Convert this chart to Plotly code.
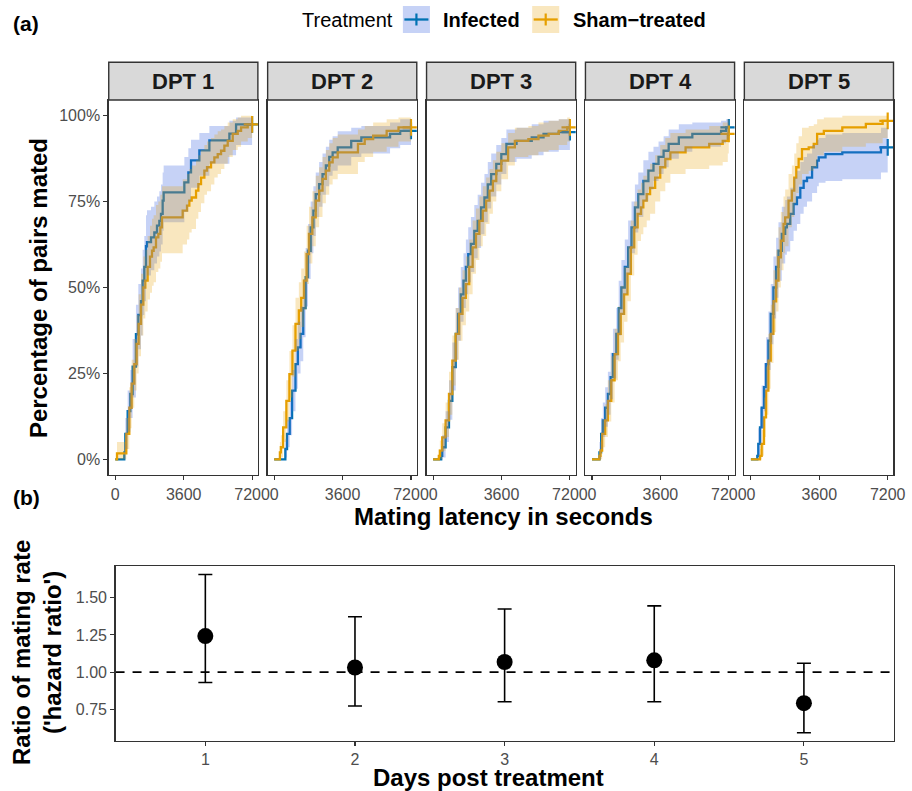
import plotly.graph_objects as go

W, H = 912, 791
# effective horizontal pixel span observed for the rendered page
XW = 898
FONT = "Liberation Sans, Arial, sans-serif"

# ---------------- data: panel (a), Kaplan-Meier style mating curves ----------------
panels = ["DPT 1", "DPT 2", "DPT 3", "DPT 4", "DPT 5"]
time_ticks = [0, 3600, 7200]
pct_ticks = [0, 25, 50, 75, 100]
pct_labels = ["0%", "25%", "50%", "75%", "100%"]
END_TIME = 7200

# DPT 1
inf1_t = [0, 474, 527, 650, 790, 913, 1088, 1212, 1352, 1440, 1528, 1616, 1668, 1880, 2055, 2195, 2318, 2405, 2493, 2546, 3635, 3846, 3986, 4425, 4952, 6006, 6357]
inf1_p = [0, 2, 7.4, 14, 19, 27, 36.4, 42, 46, 52, 56, 62, 63.2, 64.6, 66, 68, 69.4, 71.4, 75.3, 77.7, 80.6, 83.5, 87, 89.9, 92.8, 94.8, 97.5]
inf1_lo = [0, 0, 3, 8, 12, 18, 27, 32, 36, 42, 46, 52, 53.5, 55, 57, 59, 60.5, 62.5, 66.5, 69, 72, 75, 79, 82.5, 86, 88.5, 91.5]
inf1_hi = [0, 4.5, 12, 20, 26, 35, 45, 51, 55.5, 61, 65, 71, 72.5, 73.5, 75, 76.5, 78, 80, 83.5, 85.5, 88, 90.5, 93, 95, 97, 98.5, 99.5]
sham1_t = [0, 90, 580, 738, 860, 1001, 1124, 1229, 1352, 1475, 1580, 1703, 1826, 1932, 2019, 2142, 2265, 2371, 2458, 3547, 3775, 3898, 4021, 4250, 4372, 4513, 4689, 4829, 5040, 5215, 5391, 5567, 5742, 5918, 6181, 6445, 6620, 6971]
sham1_p = [0, 1.7, 7.4, 15, 22, 27.7, 33.6, 39.4, 45, 50, 52, 56, 59, 60.7, 61.7, 64.6, 65.6, 67.5, 70.4, 72.4, 73.8, 75.3, 76.2, 78.2, 80.1, 82, 84, 85, 86.4, 87.9, 88.8, 89.8, 91.3, 92.7, 94.7, 95.6, 96.6, 97.5]
sham1_lo = [0, 0, 3, 9, 15, 20, 25, 30, 36, 41, 43, 46.5, 48.5, 50.5, 51.5, 54.5, 55.5, 57.5, 60, 62.5, 64, 66, 67, 70, 72, 74.5, 77, 78, 80, 82, 83, 84.5, 86, 88, 90, 91, 92.5, 93.5]
sham1_hi = [0, 5, 12, 21, 29, 35, 42, 48, 54, 59, 61, 65, 68, 70, 71, 74, 75, 77, 79.5, 81.5, 83, 84.5, 85.5, 87, 88.5, 90, 91.5, 92.5, 93.5, 94.5, 95.5, 96, 97, 98, 99, 99.5, 100, 100]

# DPT 2
inf2_t = [0, 587, 676, 818, 942, 1120, 1245, 1387, 1529, 1654, 1778, 1920, 2063, 2187, 2365, 2543, 2720, 2898, 3076, 3343, 4054, 4587, 6099, 6632]
inf2_p = [0, 3, 7.4, 12, 20, 27.7, 32.6, 36.5, 44, 53, 60.7, 67.5, 72.4, 77.2, 80.1, 83, 85.5, 88, 89.3, 90.8, 92.7, 93.7, 94.7, 95.6]
inf2_lo = [0, 0.5, 3.5, 7, 14, 20.5, 25, 28.5, 35.5, 44.5, 52.5, 60, 65, 70.5, 73.5, 77, 79.5, 82.5, 84, 85.5, 88, 89, 90.5, 91.5]
inf2_hi = [0, 6, 11.5, 17, 26, 35, 40, 44.5, 52.5, 61.5, 68.5, 75, 79.5, 83.5, 86.5, 89, 91, 93, 94, 95.5, 96.5, 97, 98, 99]
sham2_t = [0, 300, 350, 470, 640, 800, 960, 1120, 1298, 1422, 1565, 1707, 1831, 2009, 2187, 2365, 2543, 2720, 2898, 3076, 3343, 4409, 4765, 5209, 5920, 6543]
sham2_p = [0, 2, 3.5, 9.3, 17, 24.8, 31.6, 39.4, 43.3, 47, 52, 59.7, 65.6, 70.4, 75.3, 78.2, 81.6, 84, 86.4, 87.9, 89.3, 91.8, 93.2, 94.2, 95.6, 96.6]
sham2_lo = [0, 0, 0.5, 5, 11, 18, 24, 31.5, 35, 38.5, 43.5, 51, 57, 62, 67.5, 70.5, 74.5, 77, 80, 81.5, 83, 86.5, 88, 89.5, 91, 92.5]
sham2_hi = [0, 5, 7, 14, 23, 31.5, 39, 47, 51.5, 55.5, 60.5, 68, 73.5, 78, 82.5, 85, 88, 90, 92, 93.5, 94.5, 96, 97, 98, 99, 99.5]

# DPT 3
inf3_t = [0, 427, 480, 658, 836, 1013, 1191, 1316, 1458, 1600, 1725, 1849, 1991, 2169, 2347, 2525, 2703, 2880, 3058, 3325, 3591, 3858, 4392, 5192, 5814, 6614]
inf3_p = [0, 1, 3.5, 9.3, 17, 26.8, 36.5, 42.3, 48, 52, 56, 59.7, 62.7, 66.5, 69.4, 73.3, 76.2, 80, 83, 86, 88.8, 91.8, 92.7, 93.7, 94.7, 95.2]
inf3_lo = [0, 0, 0.5, 5, 11.5, 20, 29, 34.5, 40, 44, 48, 51.5, 54.5, 58.5, 61.5, 65.5, 69, 73, 76.5, 80, 83, 86.5, 87.5, 88.5, 89.5, 90]
inf3_hi = [0, 3, 7, 14, 23, 34, 44, 50, 56, 60, 64, 67.5, 70.5, 74, 77, 80.5, 83, 86.5, 89, 91.5, 93.5, 96, 96.5, 97.5, 98.5, 99]
sham3_t = [0, 302, 356, 480, 658, 836, 1013, 1191, 1369, 1547, 1725, 1902, 2080, 2258, 2436, 2614, 2791, 2969, 3147, 3325, 3591, 3947, 4303, 5014, 5547, 6081, 6614, 7059]
sham3_p = [0, 1, 2.5, 6.4, 11.3, 19, 28.7, 36.5, 42.3, 47, 51, 56, 61.7, 65.6, 69.4, 72.4, 75.3, 78.2, 81, 84, 86.9, 90.8, 92.7, 93.2, 94.2, 94.7, 95.6, 96.6]
sham3_lo = [0, 0, 0, 2.5, 6.5, 13, 21.5, 29, 34.5, 39, 43, 48, 54, 58, 62, 65, 68.5, 71.5, 75, 78, 81.5, 85.5, 88, 88.5, 89.5, 90, 91.5, 92.5]
sham3_hi = [0, 3, 5.5, 10.5, 16.5, 25.5, 36, 44, 50, 55, 59, 64, 69.5, 73, 76.5, 79.5, 82, 84.5, 87, 89.5, 92, 95, 96.5, 97, 98, 98.5, 99, 99.5]

# DPT 4
inf4_t = [0, 391, 480, 569, 693, 836, 978, 1102, 1280, 1405, 1547, 1725, 1902, 2080, 2258, 2436, 2703, 2969, 3236, 3503, 3769, 4036, 4570, 5281, 6792, 7059]
inf4_p = [0, 2, 7.4, 11.3, 15, 19, 23.9, 30.6, 36.5, 44, 50, 56, 61.7, 67.5, 73.3, 77.2, 81, 84, 86, 88, 89.8, 91.8, 93.7, 94.7, 95.6, 96.6]
inf4_lo = [0, 0, 3, 6.5, 9.5, 13, 17.5, 23.5, 29, 36, 42, 48, 54, 60, 66, 70.5, 75, 78.5, 81, 83, 85, 87.5, 89.5, 91, 92, 93]
inf4_hi = [0, 5, 12, 16.5, 21, 25.5, 31, 38, 44, 52, 58, 64, 69.5, 75, 80, 83.5, 87, 89.5, 91, 92.5, 94, 96, 97.5, 98, 98.5, 99]
sham4_t = [0, 391, 445, 534, 693, 836, 1013, 1191, 1369, 1511, 1689, 1867, 2045, 2223, 2400, 2578, 2703, 2880, 3058, 3325, 3592, 3858, 4125, 4925, 6170, 6881, 7148]
sham4_p = [0, 1, 2.5, 7.4, 11.3, 17, 23, 30.6, 36.5, 42.3, 48, 54, 61.7, 67.5, 71.4, 73.3, 75.3, 77.2, 79, 82, 85, 87.4, 89.3, 90.8, 91.8, 92.7, 94.7]
sham4_lo = [0, 0, 0, 3.5, 6.5, 11, 16.5, 23, 28.5, 34, 40, 46, 53.5, 59.5, 63.5, 65.5, 67.5, 69.5, 71.5, 75, 78, 80.5, 83, 84.5, 85.5, 86.5, 89]
sham4_hi = [0, 3, 5.5, 11.5, 16, 23, 30, 38, 44.5, 50.5, 56, 62, 69.5, 75, 78.5, 80.5, 82.5, 84.5, 86, 88.5, 91.5, 93.5, 95, 96, 97, 98, 99]

# DPT 5
inf5_t = [0, 336, 389, 478, 566, 690, 796, 920, 1044, 1185, 1327, 1451, 1627, 1804, 1893, 2070, 2247, 2424, 2600, 2777, 2954, 3220, 3485, 3573, 3927, 4811, 6846]
inf5_p = [0, 1, 4.5, 9.3, 15, 21, 27.7, 34.5, 42.3, 50, 56, 60.7, 65.6, 67.5, 68.5, 71.4, 74.3, 76.2, 79, 81, 82, 85, 86.9, 87.9, 88.8, 89.3, 90.8]
inf5_lo = [0, 0, 1, 4.5, 9, 14, 20, 26, 33.5, 41, 47, 52, 57, 59.5, 60.5, 63.5, 66.5, 68.5, 71.5, 73.5, 75, 77.5, 79.5, 80.5, 81, 81.5, 83.5]
inf5_hi = [0, 4, 9, 15, 21.5, 28, 35.5, 43, 51, 59, 64.5, 69, 73.5, 75.5, 76.5, 79, 82, 84, 86.5, 88, 89, 91.5, 93, 93.5, 94.5, 95, 96.5]
sham5_t = [0, 478, 566, 690, 796, 920, 1044, 1185, 1327, 1451, 1575, 1716, 1804, 1981, 2158, 2282, 2388, 2512, 2689, 3043, 3308, 3485, 3839, 4811, 6050, 6935]
sham5_p = [0, 1, 4.5, 12.2, 20, 28.7, 36.5, 46, 52, 58.8, 63.6, 68.5, 70.4, 75.3, 78.2, 82, 85, 87.4, 90.3, 90.8, 91.8, 94.7, 95.6, 96.6, 97.6, 98.5]
sham5_lo = [0, 0, 1, 6.5, 13, 20.5, 28, 37, 43, 50, 55, 60, 62, 67.5, 70.5, 74.5, 77.5, 80, 83, 84, 85, 88.5, 89.5, 91, 92, 93.5]
sham5_hi = [0, 3, 8.5, 18, 27, 36.5, 45, 55, 61, 67.5, 72, 76.5, 78.5, 83, 85.5, 89, 92, 94, 96.5, 97, 97.5, 99, 99.5, 100, 100, 100]

infected = [
    (inf1_t, inf1_p, inf1_lo, inf1_hi), (inf2_t, inf2_p, inf2_lo, inf2_hi),
    (inf3_t, inf3_p, inf3_lo, inf3_hi), (inf4_t, inf4_p, inf4_lo, inf4_hi),
    (inf5_t, inf5_p, inf5_lo, inf5_hi)]
sham = [
    (sham1_t, sham1_p, sham1_lo, sham1_hi), (sham2_t, sham2_p, sham2_lo, sham2_hi),
    (sham3_t, sham3_p, sham3_lo, sham3_hi), (sham4_t, sham4_p, sham4_lo, sham4_hi),
    (sham5_t, sham5_p, sham5_lo, sham5_hi)]

# ---------------- data: panel (b), hazard ratios ----------------
days = [1, 2, 3, 4, 5]
hr = [1.242, 1.031, 1.068, 1.079, 0.791]
hr_lo = [0.930, 0.772, 0.801, 0.801, 0.592]
hr_hi = [1.656, 1.372, 1.424, 1.445, 1.059]

# ---------------- styling ----------------
BLUE = "#0072B2"
ORANGE = "#E69F00"
BLUE_FILL = "rgba(65,105,225,0.30)"
ORANGE_FILL = "rgba(230,159,0,0.25)"
AXIS_COL = "#333333"
TICK_COL = "#4D4D4D"


def px(x):
    return x / XW


def py(y):
    return 1 - y / H


def step_pts(t, v, tend):
    xs, ys = [], []
    for i in range(len(t)):
        nxt = t[i + 1] if i + 1 < len(t) else tend
        xs += [t[i], nxt]
        ys += [v[i], v[i]]
    return xs, ys


fig = go.Figure()

PANEL_LEFT0 = 108.5
PANEL_STEP = 158.55
PANEL_W = 148.8
TOP_Y0, TOP_Y1 = 100, 475
STRIP_Y0 = 62.3

layout_axes = {}
shapes = []
annotations = []

for i in range(5):
    xa = "x" if i == 0 else f"x{i+1}"
    ya = "y" if i == 0 else f"y{i+1}"
    left = PANEL_LEFT0 + i * PANEL_STEP
    right = left + PANEL_W
    for (t, p, lo, hi), col in ((infected[i], BLUE), (sham[i], ORANGE)):
        fig.add_trace(go.Scatter(x=list(t) + [END_TIME], y=list(p) + [p[-1]], mode="lines",
                                 line=dict(color=col, width=2.3, shape="hv"),
                                 xaxis=xa, yaxis=ya, showlegend=False, hoverinfo="skip"))
    for (t, p, lo, hi), col in ((infected[i], BLUE), (sham[i], ORANGE)):
        fig.add_trace(go.Scatter(x=[END_TIME], y=[p[-1]], mode="markers",
                                 marker=dict(symbol="cross-thin", size=12, line=dict(color=col, width=2.2)),
                                 xaxis=xa, yaxis=ya, showlegend=False, hoverinfo="skip"))
    for (t, p, lo, hi), fc in ((infected[i], BLUE_FILL), (sham[i], ORANGE_FILL)):
        ux, uy = step_pts(t, hi, END_TIME)
        lx, ly = step_pts(t, lo, END_TIME)
        fig.add_trace(go.Scatter(x=ux + lx[::-1], y=uy + ly[::-1], mode="lines", fill="toself",
                                 fillcolor=fc, line=dict(width=0), xaxis=xa, yaxis=ya,
                                 showlegend=False, hoverinfo="skip"))

    xkey = "xaxis" if i == 0 else f"xaxis{i+1}"
    ykey = "yaxis" if i == 0 else f"yaxis{i+1}"
    layout_axes[xkey] = dict(domain=[px(left), px(right)], anchor=ya, range=[-345, 7505],
                             tickvals=time_ticks, ticktext=[str(v) for v in time_ticks],
                             ticks="outside", ticklen=4, tickwidth=1.1, tickcolor=AXIS_COL,
                             showline=True, mirror=True, linecolor=AXIS_COL, linewidth=1.4,
                             showgrid=False, zeroline=False,
                             tickfont=dict(size=16, color=TICK_COL, family=FONT))
    layout_axes[ykey] = dict(domain=[py(TOP_Y1), py(TOP_Y0)], anchor=xa, range=[-4.57, 104.57],
                             tickvals=pct_ticks, ticktext=pct_labels,
                             ticks="outside" if i == 0 else "", ticklen=4, tickwidth=1.1,
                             tickcolor=AXIS_COL, showticklabels=(i == 0),
                             showline=True, mirror=True, linecolor=AXIS_COL, linewidth=1.4,
                             showgrid=False, zeroline=False,
                             tickfont=dict(size=16, color=TICK_COL, family=FONT))
    shapes.append(dict(type="rect", xref="paper", yref="paper", x0=px(left), x1=px(right),
                       y0=py(TOP_Y0), y1=py(STRIP_Y0), fillcolor="#D9D9D9",
                       line=dict(color=AXIS_COL, width=1.4), layer="above"))
    annotations.append(dict(text=f"<b>{panels[i]}</b>", x=px((left + right) / 2), y=py((STRIP_Y0 + TOP_Y0) / 2),
                            xref="paper", yref="paper", showarrow=False, xanchor="center", yanchor="middle",
                            font=dict(size=22, color="#1A1A1A", family=FONT)))

# bottom panel
fig.add_trace(go.Scatter(x=days, y=hr, mode="markers",
                         marker=dict(color="black", size=16),
                         error_y=dict(type="data", symmetric=False,
                                      array=[h - m for h, m in zip(hr_hi, hr)],
                                      arrayminus=[m - l for m, l in zip(hr, hr_lo)],
                                      color="black", thickness=1.6, width=7),
                         xaxis="x6", yaxis="y6", showlegend=False, hoverinfo="skip"))

B_X0, B_X1, B_Y0, B_Y1 = 115.3, 891.7, 566, 740.7
layout_axes["xaxis6"] = dict(domain=[px(B_X0), px(B_X1)], anchor="y6", range=[0.4, 5.6],
                             tickvals=days, ticktext=[str(d) for d in days],
                             ticks="outside", ticklen=4, tickwidth=1.1, tickcolor=AXIS_COL,
                             showline=True, mirror=True, linecolor=AXIS_COL, linewidth=1.4,
                             showgrid=False, zeroline=False,
                             tickfont=dict(size=16, color=TICK_COL, family=FONT))
hr_ticks = [0.75, 1.0, 1.25, 1.5]
layout_axes["yaxis6"] = dict(domain=[py(B_Y1), py(B_Y0)], anchor="x6", range=[0.539, 1.713],
                             tickvals=hr_ticks, ticktext=[f"{v:.2f}" for v in hr_ticks],
                             ticks="outside", ticklen=4, tickwidth=1.1, tickcolor=AXIS_COL,
                             showline=True, mirror=True, linecolor=AXIS_COL, linewidth=1.4,
                             showgrid=False, zeroline=False,
                             tickfont=dict(size=16, color=TICK_COL, family=FONT))
shapes.append(dict(type="line", xref="x6", yref="y6", x0=0.4, x1=5.6, y0=1, y1=1,
                   line=dict(color="black", width=1.6, dash="9px,8px"), layer="below"))

# legend (drawn manually to mimic ggplot)
for x0, fc, col in ((402, BLUE_FILL, BLUE), (531, ORANGE_FILL, ORANGE)):
    shapes.append(dict(type="rect", xref="paper", yref="paper", x0=px(x0), x1=px(x0 + 27),
                       y0=py(33), y1=py(6), fillcolor=fc, line=dict(width=0)))
    shapes.append(dict(type="line", xref="paper", yref="paper", x0=px(x0 + 1.5), x1=px(x0 + 25.5),
                       y0=py(19.5), y1=py(19.5), line=dict(color=col, width=2.3)))
    shapes.append(dict(type="line", xref="paper", yref="paper", x0=px(x0 + 13.5), x1=px(x0 + 13.5),
                       y0=py(13.5), y1=py(25.5), line=dict(color=col, width=2.2)))


def ann(text, x, y, size, xanchor="center", angle=0, color="black"):
    annotations.append(dict(text=text, x=px(x), y=py(y), xref="paper", yref="paper", showarrow=False,
                            xanchor=xanchor, yanchor="middle", textangle=angle,
                            font=dict(size=size, color=color, family=FONT)))


ann("Treatment", 299, 19.5, 20, xanchor="left")
ann("<b>Infected</b>", 440, 19.5, 20, xanchor="left")
ann("<b>Sham\u2212treated</b>", 570, 19.5, 20, xanchor="left")
ann("<b>(a)</b>", 26, 24, 21)
ann("<b>(b)</b>", 26, 497, 21)
ann("<b>Percentage of pairs mated</b>", 38, 288, 24, angle=-90)
ann("<b>Mating latency in seconds</b>", 502, 516, 24)
ann("<b>Days post treatment</b>", 487, 777, 24)
ann("<b>Ratio of mating rate</b>", 21, 653, 24, angle=-90)
ann("<b>('hazard ratio')</b>", 52, 653, 24, angle=-90)

fig.update_layout(width=W, height=H, margin=dict(l=0, r=0, t=0, b=0), autosize=False,
                  paper_bgcolor="white", plot_bgcolor="white", showlegend=False,
                  font=dict(family=FONT), shapes=shapes, annotations=annotations, **layout_axes)

fig.write_html("out.html",
               config={"responsive": False, "displayModeBar": False, "staticPlot": True},
               post_script="document.body.style.margin='0';document.body.style.padding='0';"
                           "document.documentElement.style.overflow='hidden';"
                           "document.body.style.overflow='hidden';")
